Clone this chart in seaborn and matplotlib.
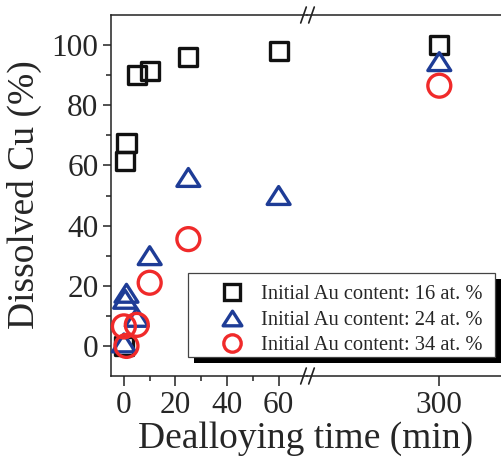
import numpy as np
import pandas as pd
import matplotlib
matplotlib.use("Agg")
import matplotlib.pyplot as plt
from matplotlib.path import Path
from matplotlib.lines import Line2D
from matplotlib.patches import Rectangle
import seaborn as sns

# ---- data ----
time_16 = [0, 0.5, 1, 5, 10, 25, 60, 300]
cu_16 = [0, 61.5, 67.5, 90, 91.5, 96, 98, 100]
time_24 = [0, 0.5, 1, 5, 10, 25, 60, 300]
cu_24 = [1, 15.5, 17.5, 9.5, 30, 56, 50, 94.5]
time_34 = [1, 0, 5, 10, 25, 300]
cu_34 = [0, 6.5, 7, 21, 35.5, 86.5]
series_labels = ["Initial Au content: 16 at. %",
                 "Initial Au content: 24 at. %",
                 "Initial Au content: 34 at. %"]
xticks_left = [0, 20, 40, 60]
xticks_right = [300]
yticks = [0, 20, 40, 60, 80, 100]

colors = ["#111111", "#1e3c96", "#f02a2a"]

tri = Path([(0, 0.78), (-1, -0.78), (1, -0.78), (0, 0)],
           [Path.MOVETO, Path.LINETO, Path.LINETO, Path.CLOSEPOLY])
markers = ["s", tri, "o"]
sizes = [13, 16.5, 16.5]  # marker size (points)

frames = []
for t, v, lab in zip([time_16, time_24, time_34], [cu_16, cu_24, cu_34], series_labels):
    frames.append(pd.DataFrame({"time": t, "cu": v, "series": lab}))
df = pd.concat(frames, ignore_index=True)

sns.set_style("ticks")
plt.rcParams["font.family"] = ["Liberation Serif", "DejaVu Serif"]
plt.rcParams["axes.linewidth"] = 1.1
plt.rcParams["axes.edgecolor"] = "#222222"

W, H = 501, 457
fig = plt.figure(figsize=(W / 100, H / 100), dpi=100)
left_px, break_px, right_px = 111, 307, 501
top_px, bot_px = 15, 376
b = 1 - bot_px / H
h = (bot_px - top_px) / H
ax1 = fig.add_axes([left_px / W, b, (break_px - left_px) / W, h])
ax2 = fig.add_axes([break_px / W, b, (right_px - break_px) / W, h], sharey=ax1)

for ax, lo, hi in [(ax1, -5, 71), (ax2, 231.8, 400)]:
    sub = df[(df["time"] >= lo) & (df["time"] <= hi)]
    for lab, col, mk, ms in zip(series_labels, colors, markers, sizes):
        d = sub[sub["series"] == lab]
        sns.scatterplot(data=d, x="time", y="cu", ax=ax, marker=mk, s=ms ** 2,
                        color=col, facecolor="none", edgecolor=col,
                        linewidth=2.4, legend=False, zorder=3, clip_on=False)

ax1.set_xlim(-5, 71)
ax2.set_xlim(231.8, 331.8)
ax1.set_ylim(-10, 110)

ax1.set_xticks(xticks_left)
ax1.set_xticks([10, 30, 50], minor=True)
ax1.set_yticks(yticks)
ax1.set_yticks([10, 30, 50, 70, 90], minor=True)
ax2.set_xticks(xticks_right)

for ax in (ax1, ax2):
    ax.set_xlabel("")
    ax.set_ylabel("")
    ax.tick_params(axis="both", which="major", direction="out", labelsize=22.5,
                   width=1.1, color="#222222")
    ax.tick_params(axis="x", which="major", length=7, pad=3.5)
    ax.tick_params(axis="y", which="major", length=6, pad=3)
    ax.tick_params(axis="both", which="minor", direction="out", length=3.5,
                   width=1.1, color="#222222")
    ax.spines["top"].set_visible(True)
    ax.spines["right"].set_visible(False)
    ax.patch.set_alpha(0)

ax2.spines["left"].set_visible(False)
ax2.tick_params(axis="y", which="both", left=False, labelleft=False)

fig.text((left_px + right_px) / 2 / W, 1 - 447.5 / H, "Dealloying time (min)",
         ha="center", va="baseline", fontsize=27)
fig.text(24 / W, 1 - 195 / H, "Dissolved Cu (%)", ha="center", va="center",
         rotation=90, fontsize=27)

# break marks
for ypx in (top_px, bot_px):
    for dx in (-3.5, 4.5):
        xc = break_px + dx
        fig.add_artist(Line2D([(xc - 2.8) / W, (xc + 2.8) / W],
                              [1 - (ypx + 8) / H, 1 - (ypx - 8) / H],
                              color="#222222", lw=1.2))

# legend box with shadow
lx0, lx1, ly0, ly1 = 188, 495, 273, 357
fig.add_artist(Rectangle((lx0 / W + 6 / W, 1 - (ly1 + 6) / H), (lx1 - lx0) / W, (ly1 - ly0) / H,
                         transform=fig.transFigure, facecolor="black", edgecolor="none", zorder=4))
fig.add_artist(Rectangle((lx0 / W, 1 - ly1 / H), (lx1 - lx0) / W, (ly1 - ly0) / H,
                         transform=fig.transFigure, facecolor="white", edgecolor="#444444",
                         lw=0.9, zorder=4.5))

handles = [Line2D([], [], ls="none", marker=mk, markersize=ms, markerfacecolor="none",
                  markeredgecolor=col, markeredgewidth=2.4)
           for col, mk, ms in zip(colors, markers, [11.5, 13.5, 12.5])]
leg = fig.legend(handles, series_labels, loc="upper left",
                 bbox_to_anchor=(217 / W, 1 - 285 / H), frameon=False, fontsize=14.8,
                 handlelength=1.5, handletextpad=0.65, labelspacing=0.3, borderaxespad=0,
                 borderpad=0)
leg.set_zorder(6)

fig.savefig("out.png", dpi=100)
